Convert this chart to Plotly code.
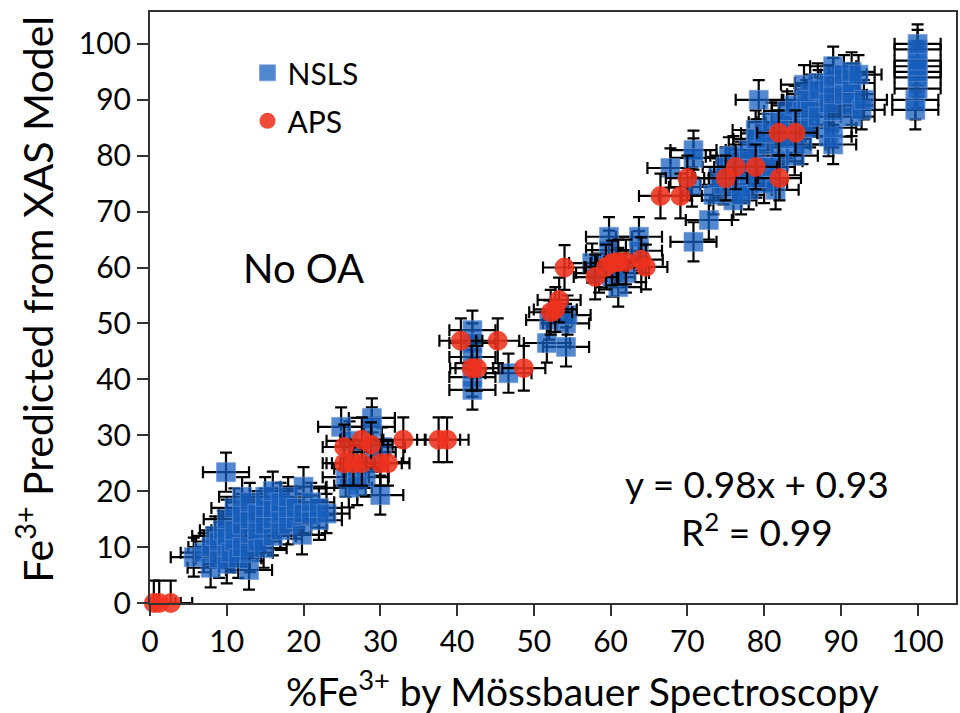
import plotly.graph_objects as go

# ---------------- data ----------------
nsls_x = [5.7, 7, 7.9, 8, 8.5, 9, 9, 9.5, 9.9, 10, 10, 10, 10, 10.5, 11, 11, 11, 11.5, 12, 12, 12, 12,
          12.9, 13, 13, 13, 13, 14, 14, 14, 14.8, 15, 15, 15, 16, 16, 16, 16, 17, 17, 17, 18, 18, 18,
          19, 19, 19.8, 20, 20, 21, 21, 22, 22, 23,
          24.9, 25.5, 25.9, 26, 27, 28.1, 28.9, 28.9, 29, 30, 30.2, 27, 26,
          42, 42, 42, 42, 42, 46.7, 51.7, 52, 54.2, 54.2, 54.4,
          57.6, 59.8, 59.8, 63.7, 63.7, 61, 60.2, 61, 62, 58.5,
          67.8, 70.8, 70.8, 70.6, 72.8, 70.8, 73.4, 74.7, 75.4, 76, 77, 78, 78.9, 79, 79.3, 80, 80,
          81.5, 82, 82, 83.2, 84, 84, 85, 76, 78, 80,
          74, 75, 76, 77, 78, 79, 80, 81, 82, 83, 84, 85, 86, 87, 77, 79, 81, 83, 85, 87,
          85.2, 85.5, 86, 86, 87.1, 87, 88.4, 88.4, 88.4, 89, 89, 89, 89, 89, 89, 90.4, 90.4,
          91.4, 91.4, 91.4, 91.4, 91.4, 92.7, 92.3, 93, 99.7, 99.7, 100, 100, 100, 100, 100, 100, 100]
nsls_y = [8.2, 9, 6.3, 10, 12, 8, 11, 13, 23.4, 7, 10, 12, 15, 9, 11, 13, 17, 8, 10, 14, 16, 19,
          5.9, 12, 9, 15, 18, 11, 13, 16, 9.8, 14, 17, 19, 12, 15, 17, 20, 13, 16, 18, 14, 17, 19,
          15, 17, 12.2, 16, 20.8, 15.7, 18, 14.8, 17, 16,
          31.5, 22.5, 20.6, 25, 24, 22.5, 33.1, 31.5, 27, 19.3, 27.9, 21, 29,
          48.8, 46.5, 44, 40.4, 38.1, 41.1, 46.5, 50.6, 45.8, 50, 51.5,
          60.8, 65.5, 63.1, 65.5, 63, 56.5, 58.3, 60, 59, 59,
          77.8, 81, 79.6, 74.4, 68.5, 64.6, 73, 74.8, 79.8, 77, 75, 73.9, 84.6, 80, 90, 78, 82,
          73.9, 79, 82, 85.9, 80, 84, 82, 72, 77, 75,
          76, 78, 80, 79, 81, 83, 84, 86, 86, 88, 89, 88, 91, 93, 73, 76, 78, 83, 85, 89,
          92.7, 90, 88, 85, 91.8, 87, 92.7, 89.4, 83.4, 82, 85, 88, 91, 94, 96, 94.5, 90.9,
          87, 89, 91, 93, 95, 88.2, 94.5, 90, 90, 88.2, 92, 94, 95, 96, 97, 99, 100]

aps_x = [0.5, 1.2, 2.7, 25.3, 25.3, 26.5, 27.6, 28.8, 27.6, 30, 31, 33, 37.6, 38.7,
         40.5, 45.3, 41.9, 42.6, 48.7, 52.2, 53.3, 52.8, 54,
         58, 59.4, 60.2, 61, 62, 64, 64.6,
         66.5, 69.1, 70, 75, 76.3, 78.9, 82, 81.9, 84.1]
aps_y = [0, 0, 0, 27.9, 25, 25, 29.2, 28.3, 25, 25, 25, 29.2, 29.2, 29.2,
         46.9, 46.9, 42, 42, 42, 52, 54.2, 52.5, 60,
         58.3, 60.1, 60.8, 61, 61, 61.4, 60.1,
         72.8, 72.8, 76, 76, 78, 78, 76, 84.1, 84.1]

nsls_xerr = 3.0
nsls_yerr = 3.5
aps_xerr = 2.8
aps_yerr = 4.0

x_ticks = list(range(0, 101, 10))
y_ticks = list(range(0, 101, 10))

FONT = "Lato"

fig = go.Figure()
fig.add_trace(go.Scatter(
    x=nsls_x, y=nsls_y, mode="markers", name="NSLS", legendgroup="a",
    marker=dict(symbol="square", size=19, color="rgba(22,95,190,0.74)",
                line=dict(color="rgba(110,150,215,0.6)", width=1)),
    error_x=dict(type="constant", value=nsls_xerr, color="black", thickness=2.2, width=6),
    error_y=dict(type="constant", value=nsls_yerr, color="black", thickness=2.2, width=6),
    cliponaxis=False,
))
fig.add_trace(go.Scatter(
    x=aps_x, y=aps_y, mode="markers", name="APS", legendgroup="b",
    marker=dict(symbol="circle", size=20, color="rgba(238,50,30,0.88)", line=dict(width=0)),
    error_x=dict(type="constant", value=aps_xerr, color="black", thickness=2.2, width=6),
    error_y=dict(type="constant", value=aps_yerr, color="black", thickness=2.2, width=6),
    cliponaxis=False,
))

fig.add_annotation(x=0.191, y=0.567, xref="paper", yref="paper", text="No OA",
                   xanchor="center", yanchor="middle",
                   showarrow=False, font=dict(size=40, color="black", family=FONT))
fig.add_annotation(x=0.753, y=0.162, xref="paper", yref="paper",
                   text="y = 0.98x + 0.93<br>R<sup>2</sup> = 0.99",
                   xanchor="center", yanchor="middle",
                   showarrow=False, align="center",
                   font=dict(size=37, color="black", family=FONT))

# axis titles
fig.add_annotation(x=0.536, y=0, xref="paper", yref="paper",
                   text="%Fe<sup>3+</sup> by Mössbauer Spectroscopy",
                   xanchor="center", yanchor="middle", yshift=-85, showarrow=False,
                   font=dict(size=39, color="black", family=FONT))
fig.add_annotation(x=0, y=0.513, xref="paper", yref="paper",
                   text="Fe<sup>3+</sup> Predicted from XAS Model", textangle=-90,
                   xanchor="center", yanchor="middle", xshift=-115, showarrow=False,
                   font=dict(size=41, color="black", family=FONT))

axis_common = dict(showline=True, linecolor="#333", linewidth=2, mirror=True,
                   ticks="outside", ticklen=11, tickwidth=2, tickcolor="#333",
                   showgrid=False, zeroline=False, automargin=False,
                   tickfont=dict(size=30, color="black", family=FONT))

fig.update_xaxes(range=[0, 105], tickvals=x_ticks, **axis_common)
fig.update_yaxes(range=[0, 105.7], tickvals=y_ticks, **axis_common)

fig.update_layout(
    width=960, height=713,
    margin=dict(l=150, r=4, t=12, b=110),
    plot_bgcolor="white", paper_bgcolor="white",
    font=dict(family=FONT, color="black"),
    legend=dict(x=0.121, y=0.941, xanchor="left", yanchor="top",
                bgcolor="rgba(0,0,0,0)", font=dict(size=30, family=FONT),
                itemsizing="trace", traceorder="grouped", tracegroupgap=6),
    showlegend=True,
)

fig.write_html("out.html", config={"displayModeBar": False},
               post_script="document.body.style.margin='0';document.body.style.overflow='hidden';")
